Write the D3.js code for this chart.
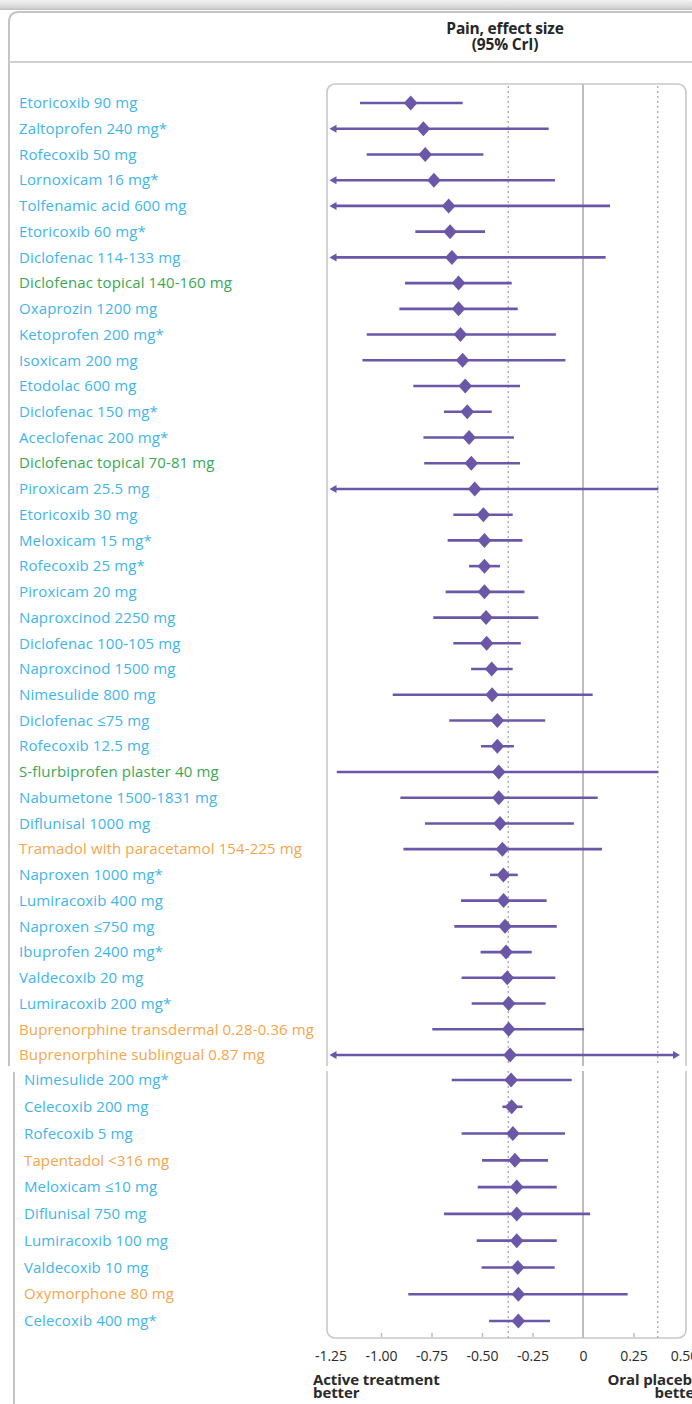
<!DOCTYPE html>
<html>
<head>
<meta charset="utf-8">
<script src="https://cdn.jsdelivr.net/npm/d3@7/dist/d3.min.js"></script>
<style>
  html, body { margin: 0; padding: 0; background: #fff; }
  svg { display: block; }
  text { font-family: "Open Sans", Lato, sans-serif; }
</style>
</head>
<body>
<svg id="chart" width="692" height="1404"></svg>
<script>
// Treatments, top to bottom
const treatments = [
  "Etoricoxib 90 mg", "Zaltoprofen 240 mg*", "Rofecoxib 50 mg", "Lornoxicam 16 mg*",
  "Tolfenamic acid 600 mg", "Etoricoxib 60 mg*", "Diclofenac 114-133 mg",
  "Diclofenac topical 140-160 mg", "Oxaprozin 1200 mg", "Ketoprofen 200 mg*",
  "Isoxicam 200 mg", "Etodolac 600 mg", "Diclofenac 150 mg*", "Aceclofenac 200 mg*",
  "Diclofenac topical 70-81 mg", "Piroxicam 25.5 mg", "Etoricoxib 30 mg",
  "Meloxicam 15 mg*", "Rofecoxib 25 mg*", "Piroxicam 20 mg", "Naproxcinod 2250 mg",
  "Diclofenac 100-105 mg", "Naproxcinod 1500 mg", "Nimesulide 800 mg",
  "Diclofenac \u226475 mg", "Rofecoxib 12.5 mg", "S-flurbiprofen plaster 40 mg",
  "Nabumetone 1500-1831 mg", "Diflunisal 1000 mg", "Tramadol with paracetamol 154-225 mg",
  "Naproxen 1000 mg*", "Lumiracoxib 400 mg", "Naproxen \u2264750 mg", "Ibuprofen 2400 mg*",
  "Valdecoxib 20 mg", "Lumiracoxib 200 mg*", "Buprenorphine transdermal 0.28-0.36 mg",
  "Buprenorphine sublingual 0.87 mg", "Nimesulide 200 mg*", "Celecoxib 200 mg",
  "Rofecoxib 5 mg", "Tapentadol <316 mg", "Meloxicam \u226410 mg", "Diflunisal 750 mg",
  "Lumiracoxib 100 mg", "Valdecoxib 10 mg", "Oxymorphone 80 mg", "Celecoxib 400 mg*"
];

// Treatment class: n = oral NSAID, t = topical NSAID, o = opioid
const classes = [
  "n","n","n","n","n","n","n","t","n","n","n","n","n","n","t","n","n","n","n","n",
  "n","n","n","n","n","n","t","n","n","o","n","n","n","n","n","n","o","o","n","n",
  "n","o","n","n","n","n","o","n"
];

// Effect size point estimates
const estimate = [
  -0.853, -0.790, -0.781, -0.738, -0.665, -0.658, -0.649, -0.616, -0.616, -0.607,
  -0.596, -0.583, -0.573, -0.564, -0.553, -0.536, -0.493, -0.488, -0.488, -0.488,
  -0.480, -0.477, -0.452, -0.450, -0.424, -0.424, -0.417, -0.417, -0.411, -0.399,
  -0.394, -0.393, -0.386, -0.381, -0.375, -0.368, -0.368, -0.361, -0.356, -0.353,
  -0.347, -0.337, -0.328, -0.328, -0.328, -0.323, -0.320, -0.320
];

// Lower 95% credible limits (null = beyond the axis)
const lower = [
  -1.104, null, -1.071, null, null, -0.830, null, -0.881, -0.909, -1.071,
  -1.092, -0.840, -0.688, -0.790, -0.786, null, -0.642, -0.670, -0.564, -0.680,
  -0.741, -0.642, -0.554, -0.942, -0.662, -0.505, -1.219, -0.904, -0.782, -0.889,
  -0.460, -0.604, -0.637, -0.507, -0.601, -0.551, -0.746, null, -0.650, -0.399,
  -0.601, -0.500, -0.521, -0.688, -0.526, -0.502, -0.865, -0.465
];

// Upper 95% credible limits (null = beyond the axis)
const upper = [
  -0.596, -0.170, -0.493, -0.139, 0.134, -0.485, 0.112, -0.353, -0.323, -0.134,
  -0.087, -0.312, -0.452, -0.342, -0.312, 0.373, -0.348, -0.300, -0.411, -0.290,
  -0.221, -0.308, -0.348, 0.048, -0.187, -0.342, 0.373, 0.073, -0.045, 0.094,
  -0.323, -0.180, -0.130, -0.254, -0.137, -0.185, 0.005, null, -0.056, -0.300,
  -0.089, -0.173, -0.130, 0.035, -0.130, -0.140, 0.221, -0.163
];

const xTicks = [-1.25, -1.00, -0.75, -0.50, -0.25, 0, 0.25, 0.50];
const mcid = [-0.37, 0.37];

const classColor = { n: "#3fb5ea", t: "#3aa856", o: "#f6a54c" };
const markColor = "#6a57a8";

const svg = d3.select("#chart");
const W = 692;

const x = d3.scaleLinear().domain([-1.25, 0.5]).range([330.5, 684]);
// Rows: two stacked panels with slightly different row pitch
const y = d3.scaleLinear().domain([0, 37, 38, 47]).range([103, 1055, 1080, 1321]);

const boxTop = 84, boxBottom = 1338, boxLeft = 327, boxRight = 686;

// Top shading strip
const defs = svg.append("defs");
const grad = defs.append("linearGradient").attr("id", "topShade")
  .attr("x1", 0).attr("y1", 0).attr("x2", 0).attr("y2", 1);
grad.append("stop").attr("offset", "0%").attr("stop-color", "#f2f2f2");
grad.append("stop").attr("offset", "70%").attr("stop-color", "#d9d9d9");
grad.append("stop").attr("offset", "100%").attr("stop-color", "#bdbdbd");
svg.append("rect").attr("x", 0).attr("y", 0).attr("width", W).attr("height", 10)
  .attr("fill", "url(#topShade)");

// Outer panel frame
svg.append("path")
  .attr("d", `M9,1067 L9,22 Q9,12 19,12 L${W + 5},12`)
  .attr("fill", "none").attr("stroke", "#c4c4c4").attr("stroke-width", 2);
svg.append("line").attr("x1", 14).attr("x2", 14).attr("y1", 1072).attr("y2", 1404)
  .attr("stroke", "#c4c4c4").attr("stroke-width", 2);
svg.append("line").attr("x1", 9).attr("x2", W).attr("y1", 62).attr("y2", 62)
  .attr("stroke", "#cfcfcf").attr("stroke-width", 2);

// Column header
const hdr = svg.append("text").attr("text-anchor", "middle")
  .attr("font-size", 15.5).attr("font-weight", 700).attr("fill", "#262626")
  .attr("letter-spacing", "-0.2");
hdr.append("tspan").attr("x", 505).attr("y", 34).text("Pain, effect size");
hdr.append("tspan").attr("x", 505).attr("y", 50).text("(95% CrI)");

// Plot box
svg.append("rect")
  .attr("x", boxLeft).attr("y", boxTop)
  .attr("width", boxRight - boxLeft).attr("height", boxBottom - boxTop)
  .attr("rx", 8).attr("ry", 8)
  .attr("fill", "none").attr("stroke", "#c8c8c8").attr("stroke-width", 1.6);

// Null line and minimal important difference lines
svg.append("line")
  .attr("x1", x(0)).attr("x2", x(0)).attr("y1", boxTop).attr("y2", boxBottom)
  .attr("stroke", "#bdbdbd").attr("stroke-width", 2);
svg.selectAll("line.mcid").data(mcid).join("line").attr("class", "mcid")
  .attr("x1", d => x(d)).attr("x2", d => x(d))
  .attr("y1", boxTop + 2).attr("y2", boxBottom)
  .attr("stroke", "#a8a8a8").attr("stroke-width", 1.3)
  .attr("stroke-dasharray", "2,3");

// Axis ticks inside the box and tick labels below
const axis = d3.axisBottom(x).tickValues(xTicks)
  .tickFormat(d => d === 0 ? "0" : d3.format(".2f")(d).replace("\u2212", "-"))
  .tickSize(0).tickPadding(0);
const gAxis = svg.append("g").attr("transform", `translate(0,${boxBottom})`).call(axis);
gAxis.select(".domain").remove();
gAxis.selectAll(".tick text")
  .attr("y", 23).attr("dy", 0)
  .attr("font-family", "'Open Sans', Lato, sans-serif")
  .attr("font-size", 14).attr("fill", "#2a2a2a");
gAxis.selectAll(".tick")
  .filter(d => d !== 0 && d !== -1.25 && d !== 0.5)
  .append("line").attr("y1", -1).attr("y2", -5)
  .attr("stroke", "#bdbdbd").attr("stroke-width", 1.5);

// Direction captions
const capL = svg.append("text").attr("font-size", 15).attr("font-weight", 700)
  .attr("fill", "#2a2a2a").attr("letter-spacing", "-0.1");
capL.append("tspan").attr("x", 313).attr("y", 1385).text("Active treatment");
capL.append("tspan").attr("x", 313).attr("y", 1398).text("better");
const capR = svg.append("text").attr("font-size", 15).attr("font-weight", 700)
  .attr("fill", "#2a2a2a").attr("text-anchor", "end").attr("letter-spacing", "-0.1");
capR.append("tspan").attr("x", 701).attr("y", 1385).text("Oral placebo");
capR.append("tspan").attr("x", 701).attr("y", 1398).text("better");

// Rows
const rows = treatments.map((name, i) => ({
  name, i, cls: classes[i], est: estimate[i], lo: lower[i], hi: upper[i]
}));

// Treatment labels
svg.selectAll("text.lab").data(rows).join("text").attr("class", "lab")
  .attr("x", d => d.i >= 38 ? 24 : 19)
  .attr("y", d => y(d.i)).attr("dy", "0.35em")
  .attr("font-size", 15).attr("letter-spacing", "0.12")
  .attr("fill", d => classColor[d.cls])
  .text(d => d.name);

const [dMin, dMax] = x.domain();
const arrowLeftX = x(dMin) - 1, arrowRightX = x(dMax) - 4;

// Credible interval lines
const g = svg.append("g");
g.selectAll("line.ci").data(rows).join("line").attr("class", "ci")
  .attr("x1", d => d.lo === null ? arrowLeftX + 3 : x(d.lo))
  .attr("x2", d => d.hi === null ? arrowRightX - 3 : x(d.hi))
  .attr("y1", d => y(d.i)).attr("y2", d => y(d.i))
  .attr("stroke", markColor).attr("stroke-width", 2.6);

// Arrow heads for limits beyond the axis
g.selectAll("path.arrL").data(rows.filter(d => d.lo === null)).join("path")
  .attr("class", "arrL")
  .attr("d", d => `M${arrowLeftX},${y(d.i)} l7,-4 l0,8 z`)
  .attr("fill", markColor);
g.selectAll("path.arrR").data(rows.filter(d => d.hi === null)).join("path")
  .attr("class", "arrR")
  .attr("d", d => `M${arrowRightX},${y(d.i)} l-7,-4 l0,8 z`)
  .attr("fill", markColor);

// Point estimates
g.selectAll("path.est").data(rows).join("path").attr("class", "est")
  .attr("d", d => {
    const cx = x(d.est), cy = y(d.i);
    return `M${cx},${cy - 7.5} L${cx + 6.8},${cy} L${cx},${cy + 7.5} L${cx - 6.8},${cy} Z`;
  })
  .attr("fill", markColor);

// Seam between the two stacked panels
svg.append("rect").attr("x", 0).attr("y", 1066).attr("width", W).attr("height", 5)
  .attr("fill", "#fff");
</script>
</body>
</html>
